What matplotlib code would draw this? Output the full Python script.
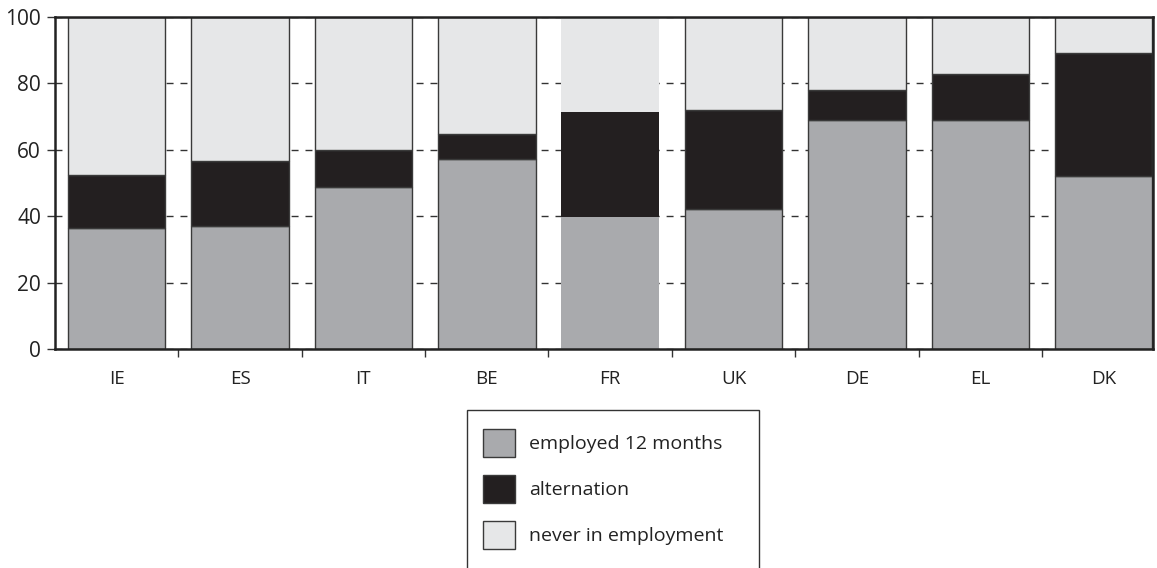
import matplotlib
matplotlib.use("Agg")
import matplotlib.pyplot as plt
from matplotlib.patches import Rectangle, Patch
import numpy as np

countries = ["IE", "ES", "IT", "BE", "FR", "UK", "DE", "EL", "DK"]
employed_12_months = [36.4, 37.0, 48.8, 57.3, 39.8, 42.1, 69.1, 69.1, 52.0]
alternation_top = [52.4, 56.6, 59.9, 64.8, 71.4, 72.0, 78.0, 82.8, 89.2]
alternation = [a - e for a, e in zip(alternation_top, employed_12_months)]
never_in_employment = [100 - a for a in alternation_top]
series_labels = ["employed 12 months", "alternation", "never in employment"]
yticks = [0, 20, 40, 60, 80, 100]

plt.rcParams["font.family"] = ["Open Sans", "DejaVu Sans"]

W, H = 1157, 568
fig = plt.figure(figsize=(W / 100, H / 100), dpi=100)
ax = fig.add_axes([55 / W, 1 - 349 / H, (1153 - 55) / W, (349 - 17) / H])

c_emp = "#a9aaad"
c_alt = "#231f20"
c_never = "#e6e7e8"
edge = "#3a3a3a"

x = np.arange(len(countries))
width = 0.79
edges = [edge if c != "FR" else "none" for c in countries]
ax.bar(x, employed_12_months, width, color=c_emp, edgecolor=edges, linewidth=1.0, zorder=3)
ax.bar(x, alternation, width, bottom=employed_12_months, color=c_alt, edgecolor=edges, linewidth=1.0, zorder=3)
ax.bar(x, never_in_employment, width, bottom=alternation_top, color=c_never, edgecolor=edges, linewidth=1.0, zorder=3)

ax.set_xlim(-0.5, 8.4)
ax.set_ylim(0, 100)
ax.set_yticks(yticks)
ax.set_yticklabels([str(v) for v in yticks])
ax.yaxis.grid(True, linestyle=(0, (5, 5)), color="#333333", linewidth=1.0, zorder=1)
ax.set_axisbelow(True)

ax.set_xticks(x[:-1] + 0.5)
ax.set_xticklabels([])
ax.set_xticks(x, minor=True)
ax.set_xticklabels(countries, minor=True)
ax.tick_params(axis="x", which="major", length=6, width=1, direction="out", color="#333333")
ax.tick_params(axis="x", which="minor", length=0, pad=15, labelsize=13.5, labelcolor="#222222")
ax.tick_params(axis="y", length=6, width=1, direction="out", pad=4, labelsize=15, labelcolor="#222222", color="#333333")

for s in ax.spines.values():
    s.set_linewidth(1.8)
    s.set_color("#222222")
    s.set_zorder(5)

# legend frame
fig.patches.append(Rectangle((467 / W, 1 - 575 / H), (759 - 467) / W, (575 - 410) / H,
                             transform=fig.transFigure, fill=False, edgecolor="#333333",
                             linewidth=1.0))
handles = [Patch(facecolor=c_emp, edgecolor=edge, linewidth=1.0),
           Patch(facecolor=c_alt, edgecolor=edge, linewidth=1.0),
           Patch(facecolor=c_never, edgecolor=edge, linewidth=1.0)]
fig.legend(handles, series_labels, loc="upper left",
           bbox_to_anchor=(467 / W, 1 - 413 / H), frameon=False,
           fontsize=14, handlelength=1.65, handleheight=1.86,
           labelspacing=0.92, handletextpad=0.75, borderpad=0.3,
           labelcolor="#222222")

fig.savefig("out.png", dpi=100)
